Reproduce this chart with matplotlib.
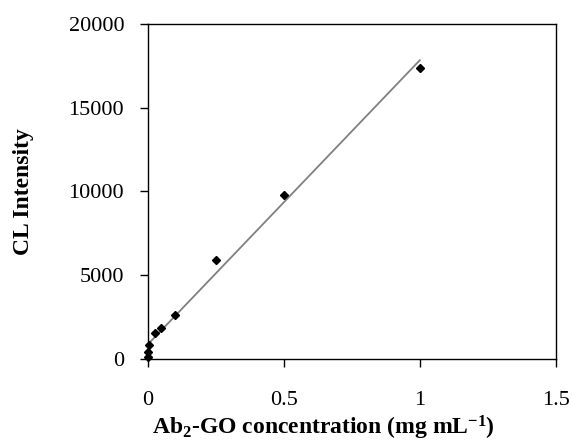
import matplotlib.pyplot as plt
import numpy as np

plt.rcParams['font.family'] = 'Liberation Serif'
plt.rcParams['mathtext.fontset'] = 'custom'
plt.rcParams['mathtext.rm'] = 'Liberation Serif:bold'
plt.rcParams['mathtext.default'] = 'rm'

conc = np.array([0, 0.001, 0.005, 0.025, 0.05, 0.1, 0.25, 0.5, 1.0])
intensity = np.array([100, 420, 840, 1560, 1860, 2630, 5930, 9800, 17380])

slope, icpt = np.polyfit(conc, intensity, 1)
xf = np.array([0.003, 1.0])

fig = plt.figure(figsize=(5.73, 4.43), dpi=100)
ax = fig.add_axes([0.258, 0.190, 0.712, 0.756])

ax.plot(xf, slope * xf + icpt, color='#808080', lw=1.3)
ax.plot(conc, intensity, 'D', color='black', ms=4, clip_on=False, zorder=5)

ax.set_xlim(0, 1.5)
ax.set_ylim(0, 20000)
ax.set_xticks([0, 0.5, 1, 1.5])
ax.set_xticklabels(['0', '0.5', '1', '1.5'])
ax.set_yticks([0, 5000, 10000, 15000, 20000])
ax.tick_params(direction='out', length=6, labelsize=16, width=1)
ax.tick_params(axis='x', pad=17)
ax.tick_params(axis='y', pad=11)
for s in ax.spines.values():
    s.set_linewidth(1)

ax.set_xlabel('Ab$_2$-GO concentration (mg mL$^{-1}$)', fontsize=17, fontweight='bold')
ax.set_ylabel('CL Intensity', fontsize=17, fontweight='bold')
ax.xaxis.set_label_coords(0.431, -0.206)
ax.xaxis.label.set_va('center')
ax.yaxis.set_label_coords(-0.304, 0.5)
ax.yaxis.label.set_va('center')

plt.savefig('out.png')
